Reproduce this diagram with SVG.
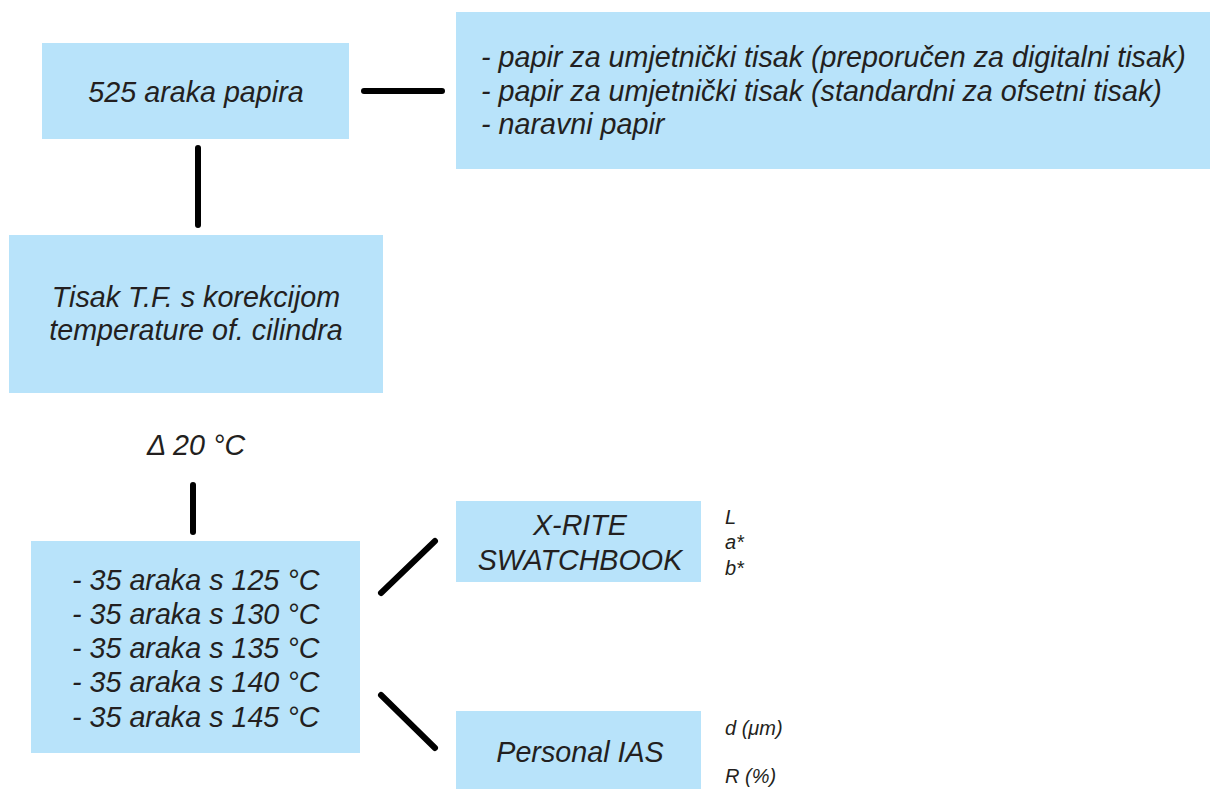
<svg xmlns="http://www.w3.org/2000/svg" width="1210" height="789" viewBox="0 0 1210 789">
<style>
.box{fill:#b8e3fa;}
.t{font-family:"Liberation Sans",Arial,sans-serif;font-style:italic;font-size:28.7px;fill:#231f20;}
.c{text-anchor:middle;}
.s{font-family:"Liberation Sans",Arial,sans-serif;font-style:italic;font-size:20px;fill:#231f20;}
.ln{stroke:#000;stroke-width:6;stroke-linecap:round;fill:none;}
</style>
<rect width="1210" height="789" fill="#fff"/>
<g id="connectors">
<line class="ln" x1="364" y1="91" x2="442" y2="91"/>
<line class="ln" x1="198" y1="148" x2="198" y2="225"/>
<line class="ln" x1="193" y1="485" x2="193" y2="532"/>
<line class="ln" x1="381" y1="593" x2="435" y2="541"/>
<line class="ln" x1="381" y1="695" x2="435" y2="748"/>
</g>
<g id="n1">
<rect class="box" x="42" y="43" width="307" height="96"/>
<text class="t c" x="196" y="102">525 araka papira</text>
</g>
<g id="n2">
<rect class="box" x="456" y="12" width="754" height="157"/>
<text class="t" x="481" y="67">- papir za umjetnički tisak (preporučen za digitalni tisak)</text>
<text class="t" x="481" y="101">- papir za umjetnički tisak (standardni za ofsetni tisak)</text>
<text class="t" x="481" y="134">- naravni papir</text>
</g>
<g id="n3">
<rect class="box" x="9" y="235" width="374" height="158"/>
<text class="t c" x="196" y="307">Tisak T.F. s korekcijom</text>
<text class="t c" x="196" y="340">temperature of. cilindra</text>
</g>
<g id="delta">
<text class="t c" x="196" y="455">Δ 20 °C</text>
</g>
<g id="n4">
<rect class="box" x="31" y="541" width="329" height="212"/>
<text class="t" x="72" y="590">- 35 araka s 125 °C</text>
<text class="t" x="72" y="624">- 35 araka s 130 °C</text>
<text class="t" x="72" y="658">- 35 araka s 135 °C</text>
<text class="t" x="72" y="692">- 35 araka s 140 °C</text>
<text class="t" x="72" y="727">- 35 araka s 145 °C</text>
</g>
<g id="n5">
<rect class="box" x="456" y="501" width="245" height="81"/>
<text class="t c" x="580" y="535">X-RITE</text>
<text class="t c" x="580" y="570">SWATCHBOOK</text>
<text class="s" x="725" y="524">L</text>
<text class="s" x="725" y="549">a*</text>
<text class="s" x="725" y="575">b*</text>
</g>
<g id="n6">
<rect class="box" x="456" y="711" width="245" height="78"/>
<text class="t c" x="580" y="762">Personal IAS</text>
<text class="s" x="725" y="735">d (μm)</text>
<text class="s" x="725" y="783">R (%)</text>
</g>
</svg>
